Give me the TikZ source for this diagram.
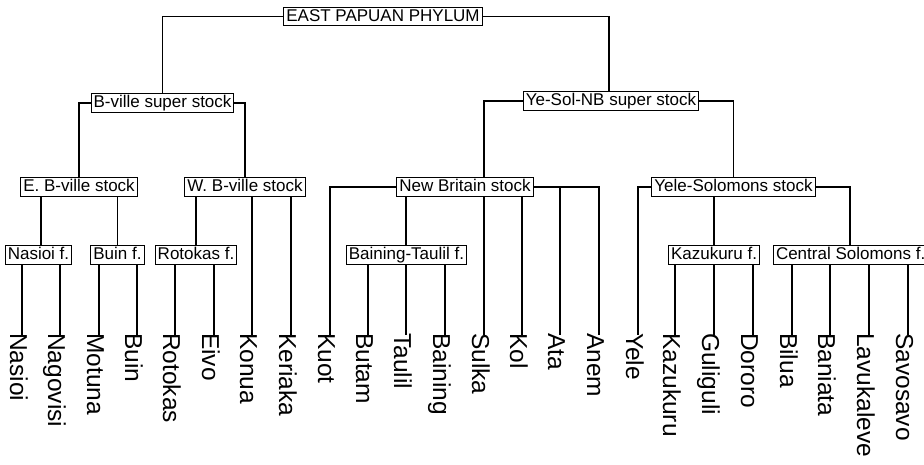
\documentclass[tikz,border=0pt]{standalone}
\usepackage{fontspec}
\setmainfont{Liberation Sans}
\begin{document}
\begin{tikzpicture}[x=1pt,y=-1pt,
  box/.style={draw,line width=1pt,inner xsep=2.5pt,inner ysep=1.2pt,text height=12.6pt,text depth=3.6pt,font=\fontsize{17}{20}\selectfont},
  leaf/.style={rotate=-90,anchor=base west,inner sep=0pt,font=\fontsize{24.5}{28}\selectfont},
  conn/.style={line width=1.1pt}]
\useasboundingbox (0,0) rectangle (924,464);
% boxes
\node[box] (phy) at (383,16.5) {EAST PAPUAN PHYLUM};
\node[box] (bv) at (162.5,103) {B-ville super stock};
\node[box] (ysnb) at (611,101) {Ye-Sol-NB super stock};
\node[box] (ebv) at (79,187) {E. B-ville stock};
\node[box] (wbv) at (245,187) {W. B-ville stock};
\node[box] (nb) at (465,187) {New Britain stock};
\node[box] (ysst) at (733.5,187) {Yele-Solomons stock};
\node[box] (nasf) at (38.5,255) {Nasioi f.};
\node[box] (buinf) at (117.5,255) {Buin f.};
\node[box] (rotf) at (196,255) {Rotokas f.};
\node[box] (btf) at (406.5,255) {Baining-Taulil f.};
\node[box] (kzf) at (714,255) {Kazukuru f.};
\node[box,anchor=west] (csf) at (773,255) {Central Solomons f.};
% junction coordinates
\coordinate (jy) at (609,0);
\coordinate (jn) at (41,0);
\coordinate (jc) at (850,0);
% leaf coordinates
\coordinate (l1) at (22,335);
\coordinate (l2) at (60,335);
\coordinate (l3) at (99,335);
\coordinate (l4) at (137,335);
\coordinate (l5) at (175,335);
\coordinate (l6) at (214,335);
\coordinate (l7) at (252,335);
\coordinate (l8) at (291,335);
\coordinate (l9) at (330,335);
\coordinate (l10) at (368,335);
\coordinate (l11) at (406,335);
\coordinate (l12) at (445,335);
\coordinate (l13) at (484,335);
\coordinate (l14) at (522,335);
\coordinate (l15) at (560,335);
\coordinate (l16) at (599,335);
\coordinate (l17) at (638,335);
\coordinate (l18) at (675,335);
\coordinate (l19) at (714,335);
\coordinate (l20) at (753,335);
\coordinate (l21) at (792,335);
\coordinate (l22) at (830,335);
\coordinate (l23) at (869,335);
\coordinate (l24) at (908,335);
% leaf labels
\node[leaf] (t1) at ([xshift=-12pt,yshift=2pt]l1) {Nasioi};
\node[leaf] (t2) at ([xshift=-12pt,yshift=2pt]l2) {Nagovisi};
\node[leaf] (t3) at ([xshift=-12pt,yshift=2pt]l3) {Motuna};
\node[leaf] (t4) at ([xshift=-12pt,yshift=2pt]l4) {Buin};
\node[leaf] (t5) at ([xshift=-12pt,yshift=2pt]l5) {Rotokas};
\node[leaf] (t6) at ([xshift=-12pt,yshift=2pt]l6) {Eivo};
\node[leaf] (t7) at ([xshift=-12pt,yshift=2pt]l7) {Konua};
\node[leaf] (t8) at ([xshift=-12pt,yshift=2pt]l8) {Keriaka};
\node[leaf] (t9) at ([xshift=-12pt,yshift=2pt]l9) {Kuot};
\node[leaf] (t10) at ([xshift=-12pt,yshift=2pt]l10) {Butam};
\node[leaf] (t11) at ([xshift=-12pt,yshift=2pt]l11) {Taulil};
\node[leaf] (t12) at ([xshift=-12pt,yshift=2pt]l12) {Baining};
\node[leaf] (t13) at ([xshift=-12pt,yshift=2pt]l13) {Sulka};
\node[leaf] (t14) at ([xshift=-12pt,yshift=2pt]l14) {Kol};
\node[leaf] (t15) at ([xshift=-12pt,yshift=2pt]l15) {Ata};
\node[leaf] (t16) at ([xshift=-12pt,yshift=2pt]l16) {Anem};
\node[leaf] (t17) at ([xshift=-12pt,yshift=2pt]l17) {Yele};
\node[leaf] (t18) at ([xshift=-12pt,yshift=2pt]l18) {Kazukuru};
\node[leaf] (t19) at ([xshift=-12pt,yshift=2pt]l19) {Guliguli};
\node[leaf] (t20) at ([xshift=-12pt,yshift=2pt]l20) {Dororo};
\node[leaf] (t21) at ([xshift=-12pt,yshift=2pt]l21) {Bilua};
\node[leaf] (t22) at ([xshift=-12pt,yshift=2pt]l22) {Baniata};
\node[leaf] (t23) at ([xshift=-12pt,yshift=2pt]l23) {Lavukaleve};
\node[leaf] (t24) at ([xshift=-12pt,yshift=2pt]l24) {Savosavo};
% connectors
\draw[conn] (phy.west) -| (bv.north);
\draw[conn] (phy.east) -| (ysnb.north -| jy);
\draw[conn] (bv.west) -| (ebv.north);
\draw[conn] (bv.east) -| (wbv.north);
\draw[conn] (ysnb.west) -| (nb.north -| l13);
\draw[conn] (ysnb.east) -| (ysst.north);
\draw[conn] (ebv.south -| jn) -- (nasf.north -| jn);
\draw[conn] (ebv.south -| buinf.north) -- (buinf.north);
\draw[conn] (wbv.south -| rotf.north) -- (rotf.north);
\draw[conn] (wbv.south -| l7) -- (l7);
\draw[conn] (wbv.south -| l8) -- (l8);
\draw[conn] (nasf.south -| l1) -- (l1);
\draw[conn] (nasf.south -| l2) -- (l2);
\draw[conn] (buinf.south -| l3) -- (l3);
\draw[conn] (buinf.south -| l4) -- (l4);
\draw[conn] (rotf.south -| l5) -- (l5);
\draw[conn] (rotf.south -| l6) -- (l6);
\draw[conn] (nb.west) -| (l9);
\draw[conn] (nb.south -| l11) -- (btf.north -| l11);
\draw[conn] (btf.south -| l10) -- (l10);
\draw[conn] (btf.south -| l11) -- (l11);
\draw[conn] (btf.south -| l12) -- (l12);
\draw[conn] (nb.south -| l13) -- (l13);
\draw[conn] (nb.south -| l14) -- (l14);
\draw[conn] (nb.east) -| (l16);
\draw[conn] (nb.east -| l15) -- (l15);
\draw[conn] (ysst.west) -| (l17);
\draw[conn] (ysst.south -| l19) -- (kzf.north -| l19);
\draw[conn] (ysst.east) -| (csf.north -| jc);
\draw[conn] (kzf.south -| l18) -- (l18);
\draw[conn] (kzf.south -| l19) -- (l19);
\draw[conn] (kzf.south -| l20) -- (l20);
\draw[conn] (csf.south -| l21) -- (l21);
\draw[conn] (csf.south -| l22) -- (l22);
\draw[conn] (csf.south -| l23) -- (l23);
\draw[conn] (csf.south -| l24) -- (l24);
\end{tikzpicture}
\end{document}
